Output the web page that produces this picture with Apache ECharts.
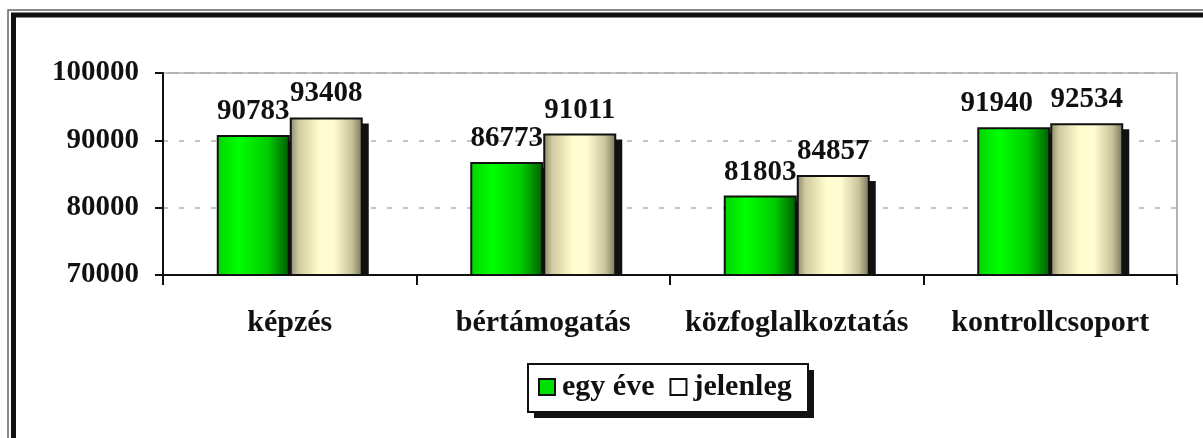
<!DOCTYPE html>
<html lang="hu">
<head>
    <meta charset="UTF-8">
    <title>Kereset</title>
    <script src="https://cdn.jsdelivr.net/npm/echarts@6/dist/echarts.min.js"></script>
    <style>
        html, body { margin: 0; padding: 0; background: #fff; }
        #chart { width: 1203px; height: 438px; }
    </style>
</head>
<body>
<div id="chart"></div>
<script>
    // adatok
    var categories = ['képzés', 'bértámogatás', 'közfoglalkoztatás', 'kontrollcsoport'];
    var egyEve = [90783, 86773, 81803, 91940];
    var jelenleg = [93408, 91011, 84857, 92534];
    var seriesNames = ['egy éve', 'jelenleg'];
    var yTicks = { min: 70000, max: 100000, step: 10000 };

    var font = 'Liberation Serif';
    var barW = 73;

    var greenFill = new echarts.graphic.LinearGradient(0, 0, 1, 0, [
        { offset: 0, color: '#00d400' },
        { offset: 0.3, color: '#00ff00' },
        { offset: 0.7, color: '#00cc00' },
        { offset: 1, color: '#005a00' }
    ]);
    var creamFill = new echarts.graphic.LinearGradient(0, 0, 1, 0, [
        { offset: 0, color: '#8a8566' },
        { offset: 0.12, color: '#cfcaa0' },
        { offset: 0.4, color: '#fffccc' },
        { offset: 0.6, color: '#fffdd2' },
        { offset: 0.85, color: '#c8c39a' },
        { offset: 1, color: '#767256' }
    ]);

    // árnyék adatok: [kategória, érték, 0 = bal oszlop / 1 = jobb oszlop]
    var shadowData = [];
    for (var i = 0; i < categories.length; i++) {
        shadowData.push([i, egyEve[i], 0]);
        shadowData.push([i, jelenleg[i], 1]);
    }

    // az utolsó zöld címke kicsit balra tolva, mint az eredetin
    var egyEveData = egyEve.map(function (v, i) {
        return i === 3 ? { value: v, label: { offset: [-17, 0] } } : v;
    });

    var myChart = echarts.init(document.getElementById('chart'));

    var txt = {
        fontFamily: font,
        fontWeight: 'bold',
        color: '#111'
    };

    var labelStyle = Object.assign({
        show: true,
        position: 'top',
        distance: 9,
        fontSize: 29
    }, txt);

    option = {
        backgroundColor: '#fff',
        animation: false,
        graphic: [
            // dupla keret
            { type: 'rect', z: -10, shape: { x: 8, y: 10, width: 1300, height: 500 },
              style: { fill: null, stroke: '#666', lineWidth: 1.5 } },
            { type: 'rect', z: -10, shape: { x: 13.5, y: 15, width: 1300, height: 500 },
              style: { fill: null, stroke: '#111', lineWidth: 5 } },
            // jelmagyarázat doboza árnyékkal
            { type: 'rect', z: -5, shape: { x: 534, y: 370, width: 280, height: 48 },
              style: { fill: '#111' } },
            { type: 'rect', z: -4, shape: { x: 528, y: 364, width: 280, height: 48 },
              style: { fill: '#fff', stroke: '#111', lineWidth: 2 } }
        ],
        grid: {
            left: 163,
            right: 26,
            top: 73,
            bottom: 163,
            show: true,
            borderColor: '#999',
            borderWidth: 1.5
        },
        legend: {
            data: [
                { name: seriesNames[0], icon: 'rect', itemStyle: { color: '#00e000', borderColor: '#111', borderWidth: 2 } },
                { name: seriesNames[1], icon: 'rect', itemStyle: { color: '#fff', borderColor: '#111', borderWidth: 2 } }
            ],
            left: 538,
            top: 372,
            itemWidth: 16,
            itemHeight: 16,
            itemGap: 15,
            padding: 0,
            textStyle: Object.assign({ fontSize: 30, padding: [0, 0, 0, 2] }, txt)
        },
        xAxis: {
            type: 'category',
            data: categories,
            axisLine: { lineStyle: { color: '#111', width: 2 } },
            axisTick: { show: true, length: 10, lineStyle: { color: '#111', width: 2 } },
            axisLabel: Object.assign({ interval: 0, margin: 33, fontSize: 30 }, txt)
        },
        yAxis: {
            type: 'value',
            min: yTicks.min,
            max: yTicks.max,
            interval: yTicks.step,
            axisLine: { show: true, lineStyle: { color: '#111', width: 2 } },
            axisTick: { show: true, length: 8, lineStyle: { color: '#111', width: 2 } },
            splitLine: { lineStyle: { color: '#c4c4c4', width: 2, type: [5, 11] } },
            axisLabel: Object.assign({
                margin: 24,
                fontSize: 29,
                formatter: function (v) { return String(v); }
            }, txt)
        },
        series: [
            {
                type: 'custom',
                z: 1,
                silent: true,
                data: shadowData,
                encode: { x: 0, y: 1 },
                renderItem: function (params, api) {
                    var top = api.coord([api.value(0), api.value(1)]);
                    var base = api.coord([api.value(0), yTicks.min]);
                    var x0 = top[0] + (api.value(2) === 0 ? -barW : 0) + 6;
                    return {
                        type: 'rect',
                        shape: { x: x0, y: top[1] + 6, width: barW, height: base[1] - top[1] - 6 },
                        style: { fill: '#111' }
                    };
                }
            },
            {
                name: seriesNames[0],
                type: 'bar',
                z: 2,
                data: egyEveData,
                barWidth: barW,
                barGap: '0%',
                itemStyle: { color: greenFill, borderColor: '#111', borderWidth: 2 },
                label: labelStyle
            },
            {
                name: seriesNames[1],
                type: 'bar',
                z: 2,
                data: jelenleg,
                barWidth: barW,
                barGap: '0%',
                itemStyle: { color: creamFill, borderColor: '#111', borderWidth: 2 },
                label: labelStyle
            }
        ]
    };

    myChart.setOption(option);
</script>
</body>
</html>
